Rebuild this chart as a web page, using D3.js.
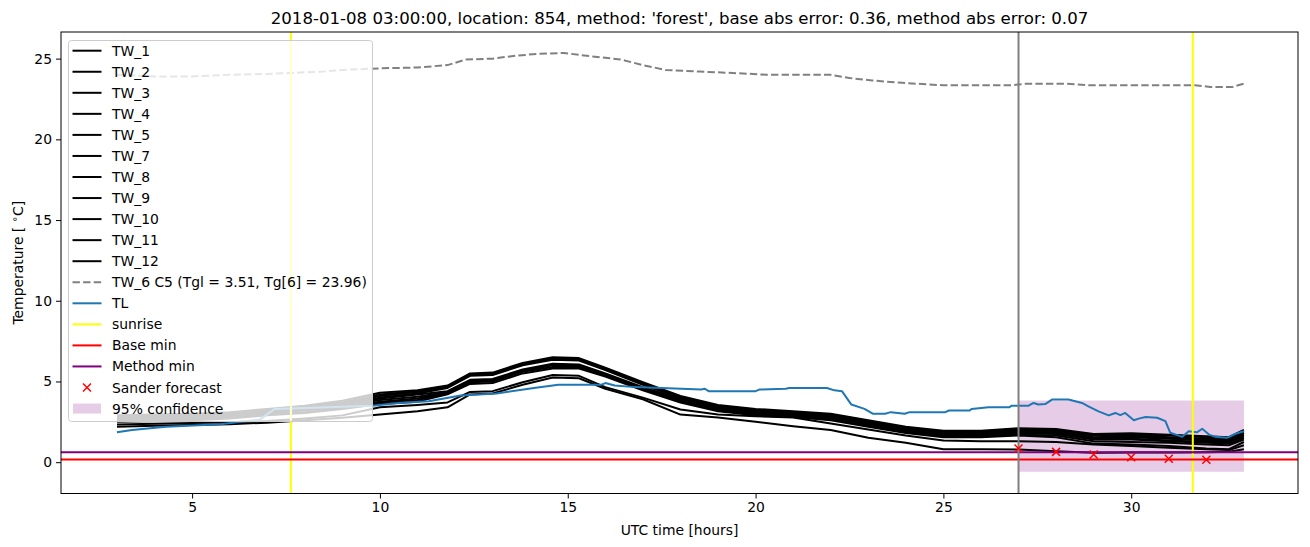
<!DOCTYPE html>
<html>
<head>
<meta charset="utf-8">
<script src="https://d3js.org/d3.v7.min.js"></script>
<style>
body {
  margin: 0;
  background: white;
}
svg text {
  font-family: "DejaVu Sans", sans-serif;
  fill: #000;
}
</style>
</head>
<body>
<div id="chart"></div>
<script>
// ---- data ----
var title = "2018-01-08 03:00:00, location: 854, method: 'forest', base abs error: 0.36, method abs error: 0.07";
var xTicks = [5, 10, 15, 20, 25, 30];
var yTicks = [0, 5, 10, 15, 20, 25];

var twHours = [3, 4, 5, 6, 7, 8, 9, 10, 11, 11.8, 12.4, 13, 13.8, 14.6, 15.3, 16, 17, 18, 19, 20, 21, 22, 23, 24, 25, 26, 27, 28, 29, 30, 31, 32, 32.6, 33];
var tw1  = [2.90,2.95,3.00,3.10,3.30,3.50,3.80,4.30,4.45,4.75,5.50,5.55,6.15,6.50,6.45,5.85,4.95,4.10,3.55,3.30,3.15,3.00,2.60,2.20,1.95,1.95,2.10,2.05,1.75,1.80,1.70,1.60,1.55,2.00];
var tw2  = [2.85,2.90,2.95,3.05,3.25,3.45,3.70,4.20,4.40,4.70,5.45,5.50,6.10,6.45,6.40,5.80,4.90,4.05,3.50,3.25,3.10,2.95,2.55,2.15,1.90,1.90,2.05,2.00,1.70,1.75,1.65,1.55,1.50,1.95];
var tw3  = [2.80,2.85,2.90,3.00,3.20,3.40,3.65,4.10,4.35,4.65,5.40,5.45,6.05,6.40,6.35,5.75,4.85,4.00,3.45,3.20,3.05,2.90,2.50,2.10,1.85,1.85,2.00,1.95,1.65,1.70,1.55,1.45,1.40,1.85];
var tw4  = [2.75,2.80,2.85,2.95,3.15,3.35,3.60,4.00,4.25,4.60,5.35,5.40,6.00,6.35,6.30,5.70,4.80,3.95,3.40,3.15,3.00,2.85,2.45,2.05,1.80,1.80,1.95,1.90,1.55,1.60,1.50,1.40,1.35,1.80];
var tw5  = [2.70,2.75,2.80,2.90,3.10,3.30,3.55,3.95,4.20,4.40,5.10,5.15,5.75,6.10,6.05,5.50,4.65,3.90,3.35,3.10,2.95,2.80,2.40,2.00,1.75,1.75,1.90,1.85,1.50,1.55,1.45,1.35,1.30,1.70];
var tw7  = [2.65,2.70,2.75,2.85,3.05,3.25,3.50,3.85,4.05,4.35,5.05,5.10,5.70,6.05,6.00,5.45,4.60,3.85,3.30,3.05,2.95,2.75,2.35,1.95,1.70,1.70,1.85,1.80,1.45,1.45,1.35,1.25,1.25,1.60];
var tw8  = [2.60,2.65,2.70,2.80,3.00,3.20,3.40,3.75,3.95,4.30,5.00,5.05,5.65,6.00,5.95,5.40,4.55,3.80,3.25,3.00,2.90,2.70,2.30,1.90,1.65,1.65,1.80,1.75,1.40,1.40,1.30,1.20,1.15,1.50];
var tw9  = [2.55,2.60,2.65,2.75,2.95,3.10,3.35,3.70,3.85,4.25,4.95,5.00,5.60,5.90,5.90,5.35,4.50,3.75,3.20,2.95,2.85,2.65,2.25,1.85,1.60,1.60,1.70,1.65,1.30,1.25,1.20,1.10,1.05,1.40];
var tw10 = [2.50,2.55,2.60,2.70,2.90,3.05,3.30,3.60,3.75,4.20,4.85,4.90,5.50,5.80,5.80,5.30,4.45,3.70,3.15,2.90,2.80,2.60,2.20,1.80,1.55,1.55,1.65,1.55,1.15,1.10,1.00,0.85,0.80,1.25];
var tw11 = [2.33,2.38,2.42,2.48,2.55,2.70,2.90,3.40,3.55,3.70,4.35,4.40,4.95,5.40,5.35,4.65,4.00,3.26,2.95,2.85,2.77,2.40,2.02,1.65,1.35,1.30,1.30,1.25,1.10,1.00,0.90,0.80,0.75,1.05];
var tw12 = [2.20,2.25,2.30,2.35,2.45,2.60,2.75,2.95,3.15,3.40,4.20,4.25,4.80,5.25,5.20,4.55,3.90,2.95,2.77,2.50,2.23,2.00,1.51,1.20,0.80,0.80,0.79,0.68,0.58,0.60,0.60,0.62,0.65,0.80];
var twNames = ["TW_1", "TW_2", "TW_3", "TW_4", "TW_5", "TW_7", "TW_8", "TW_9", "TW_10", "TW_11", "TW_12"];
var twValues = [tw1, tw2, tw3, tw4, tw5, tw7, tw8, tw9, tw10, tw11, tw12];

var tw6Label = "TW_6 C5 (Tgl = 3.51, Tg[6] = 23.96)";
var tw6Hours = [3, 4, 5, 6, 7, 7.5, 8.5, 9, 10, 11, 11.8, 12.3, 13, 13.5, 14.2, 14.9, 15.6, 16.4, 17, 17.6, 18.5, 19.5, 20.3, 22.0, 22.5, 23.1, 23.9, 25, 26.8, 27.2, 28.2, 28.9, 31.7, 32.1, 32.7, 33];
var tw6Values = [24.0, 23.9, 23.9, 24.0, 24.05, 24.1, 24.2, 24.3, 24.4, 24.45, 24.6, 24.95, 25.0, 25.15, 25.3, 25.35, 25.15, 24.95, 24.6, 24.3, 24.2, 24.1, 24.0, 24.0, 23.8, 23.65, 23.5, 23.35, 23.35, 23.45, 23.45, 23.35, 23.35, 23.25, 23.25, 23.45];

var tlHours = [3.0, 3.4, 4.3, 5.75, 6.8, 7.2, 9.8, 10.5, 11.3, 12.15, 13.1, 14.1, 14.75, 15.9, 16.0, 16.25, 16.8, 18.55, 18.65, 18.75, 20.0, 20.1, 20.8, 20.9, 21.9, 22.1, 22.3, 22.55, 22.9, 23.13, 23.45, 23.6, 23.97, 24.1, 25.05, 25.15, 25.7, 25.75, 26.2, 26.75, 26.82, 27.27, 27.4, 27.53, 27.71, 27.89, 28.33, 28.69, 28.86, 29.13, 29.4, 29.58, 29.71, 29.84, 30.07, 30.2, 30.38, 30.69, 30.91, 31.04, 31.36, 31.53, 31.75, 31.89, 32.07, 32.24, 32.55, 32.78, 33.0];
var tlValues = [1.86, 2.0, 2.2, 2.35, 2.64, 3.3, 3.5, 3.67, 3.78, 4.13, 4.25, 4.6, 4.8, 4.8, 4.9, 4.75, 4.65, 4.5, 4.55, 4.4, 4.4, 4.5, 4.55, 4.6, 4.6, 4.45, 4.4, 3.57, 3.3, 3.0, 3.0, 3.1, 3.0, 3.1, 3.1, 3.2, 3.2, 3.3, 3.4, 3.4, 3.5, 3.5, 3.67, 3.57, 3.6, 3.88, 3.88, 3.67, 3.46, 3.15, 2.9, 3.05, 2.92, 3.05, 2.6, 2.7, 2.8, 2.75, 2.54, 1.82, 1.57, 1.92, 1.85, 2.07, 1.71, 1.57, 1.51, 1.76, 1.92];

var sunriseHours = [7.63, 31.64];
var forecastHour = 27;
var baseMin = 0.17;
var methodMin = 0.62;
var sanderHours = [27, 28, 29, 30, 31, 32];
var sanderValues = [0.85, 0.64, 0.48, 0.31, 0.21, 0.15];
var confHours = [27, 33];
var confLow = [-0.6, -0.6];
var confHigh = [3.82, 3.82];

// ---- layout ----
var WIDTH = 1310, HEIGHT = 547;
var plotLeft = 61, plotRight = 1298, plotTop = 32, plotBottom = 493.5;
var lw = 2;
var fs = "13.9px";

var svg = d3.select("#chart").append("svg")
  .attr("width", WIDTH)
  .attr("height", HEIGHT);

var x = d3.scaleLinear().domain([1.51, 34.44]).range([plotLeft, plotRight]);
var y = d3.scaleLinear().domain([-1.94, 26.65]).range([plotBottom, plotTop]);

svg.append("clipPath").attr("id", "clip")
  .append("rect")
  .attr("x", plotLeft).attr("y", plotTop)
  .attr("width", plotRight - plotLeft).attr("height", plotBottom - plotTop);

var plot = svg.append("g").attr("clip-path", "url(#clip)");

// confidence band (patch, drawn under lines)
var band = confHours.map(function(h, i) { return {h: h, lo: confLow[i], hi: confHigh[i]}; });
plot.append("path")
  .datum(band)
  .attr("fill", "purple")
  .attr("fill-opacity", 0.2)
  .attr("d", d3.area()
    .x(function(d) { return x(d.h); })
    .y0(function(d) { return y(d.lo); })
    .y1(function(d) { return y(d.hi); }));

var line = d3.line()
  .x(function(d) { return x(d[0]); })
  .y(function(d) { return y(d[1]); });

// TW lines
twValues.forEach(function(vals) {
  plot.append("path")
    .datum(d3.zip(twHours, vals))
    .attr("fill", "none")
    .attr("stroke", "black")
    .attr("stroke-width", lw)
    .attr("stroke-linejoin", "round")
    .attr("d", line);
});

plot.append("path")
  .datum(d3.zip(tw6Hours, tw6Values))
  .attr("fill", "none")
  .attr("stroke", "gray")
  .attr("stroke-width", lw)
  .attr("stroke-dasharray", "7.4,3.2")
  .attr("d", line);

plot.append("path")
  .datum(d3.zip(tlHours, tlValues))
  .attr("fill", "none")
  .attr("stroke", "#1f77b4")
  .attr("stroke-width", lw)
  .attr("stroke-linejoin", "round")
  .attr("d", line);

sunriseHours.forEach(function(h) {
  plot.append("line")
    .attr("x1", x(h)).attr("x2", x(h))
    .attr("y1", plotTop).attr("y2", plotBottom)
    .attr("stroke", "yellow")
    .attr("stroke-width", lw);
});

plot.append("line")
  .attr("x1", plotLeft).attr("x2", plotRight)
  .attr("y1", y(baseMin)).attr("y2", y(baseMin))
  .attr("stroke", "red")
  .attr("stroke-width", lw);

plot.append("line")
  .attr("x1", plotLeft).attr("x2", plotRight)
  .attr("y1", y(methodMin)).attr("y2", y(methodMin))
  .attr("stroke", "purple")
  .attr("stroke-width", lw);

plot.append("line")
  .attr("x1", x(forecastHour)).attr("x2", x(forecastHour))
  .attr("y1", plotTop).attr("y2", plotBottom)
  .attr("stroke", "gray")
  .attr("stroke-width", lw);

function cross(g, cx, cy, s) {
  g.append("path")
    .attr("d", "M" + (cx - s) + "," + (cy - s) + "L" + (cx + s) + "," + (cy + s) +
               "M" + (cx - s) + "," + (cy + s) + "L" + (cx + s) + "," + (cy - s))
    .attr("stroke", "red")
    .attr("stroke-width", 1.5)
    .attr("fill", "none");
}
sanderHours.forEach(function(h, i) {
  cross(plot, x(h), y(sanderValues[i]), 4);
});

// ---- axes ----
var xAxis = svg.append("g")
  .attr("transform", "translate(0," + plotBottom + ")")
  .call(d3.axisBottom(x).tickValues(xTicks).tickSize(5).tickPadding(4).tickFormat(d3.format("d")));
var yAxis = svg.append("g")
  .attr("transform", "translate(" + plotLeft + ",0)")
  .call(d3.axisLeft(y).tickValues(yTicks).tickSize(5).tickPadding(4).tickFormat(d3.format("d")));
[xAxis, yAxis].forEach(function(a) {
  a.select(".domain").remove();
  a.selectAll("text").style("font-family", "DejaVu Sans").style("font-size", fs).attr("fill", "#000");
  a.selectAll("line").attr("stroke", "#000");
});

svg.append("rect")
  .attr("x", plotLeft).attr("y", plotTop)
  .attr("width", plotRight - plotLeft).attr("height", plotBottom - plotTop)
  .attr("fill", "none")
  .attr("stroke", "black")
  .attr("stroke-width", 1);

svg.append("text")
  .attr("x", (plotLeft + plotRight) / 2).attr("y", 24)
  .attr("text-anchor", "middle")
  .style("font-size", "16.6px")
  .text(title);

svg.append("text")
  .attr("x", (plotLeft + plotRight) / 2).attr("y", 535)
  .attr("text-anchor", "middle")
  .style("font-size", fs)
  .text("UTC time [hours]");

var yl = svg.append("text")
  .attr("transform", "translate(23," + ((plotTop + plotBottom) / 2) + ") rotate(-90)")
  .attr("text-anchor", "middle")
  .style("font-size", fs);
yl.append("tspan").text("Temperature [ ");
yl.append("tspan").attr("dy", -5).style("font-size", "10px").text("\u2218");
yl.append("tspan").attr("dy", 5).text("C]");

// ---- legend ----
var legendItems = twNames.map(function(n) { return {label: n, kind: "line", color: "black"}; });
legendItems.push({label: tw6Label, kind: "dash", color: "gray"});
legendItems.push({label: "TL", kind: "line", color: "#1f77b4"});
legendItems.push({label: "sunrise", kind: "line", color: "yellow"});
legendItems.push({label: "Base min", kind: "line", color: "red"});
legendItems.push({label: "Method min", kind: "line", color: "purple"});
legendItems.push({label: "Sander forecast", kind: "cross", color: "red"});
legendItems.push({label: "95% confidence", kind: "patch", color: "purple"});

var legend = svg.append("g");
legend.append("rect")
  .attr("x", 68.5).attr("y", 40.5)
  .attr("width", 304).attr("height", 381)
  .attr("rx", 3)
  .attr("fill", "white")
  .attr("fill-opacity", 0.8)
  .attr("stroke", "#cccccc")
  .attr("stroke-width", 1);

legendItems.forEach(function(d, i) {
  var cy = 50.7 + i * 21.05;
  if (d.kind === "line" || d.kind === "dash") {
    legend.append("line")
      .attr("x1", 72.5).attr("x2", 101.5)
      .attr("y1", cy).attr("y2", cy)
      .attr("stroke", d.color)
      .attr("stroke-width", lw)
      .attr("stroke-dasharray", d.kind === "dash" ? "7.4,3.2" : null);
  } else if (d.kind === "cross") {
    cross(legend, 87, cy, 4);
  } else {
    legend.append("rect")
      .attr("x", 73).attr("y", cy - 5)
      .attr("width", 28).attr("height", 10)
      .attr("fill", d.color)
      .attr("fill-opacity", 0.2);
  }
  legend.append("text")
    .attr("x", 112).attr("y", cy + 5)
    .style("font-size", fs)
    .text(d.label);
});
</script>
</body>
</html>
